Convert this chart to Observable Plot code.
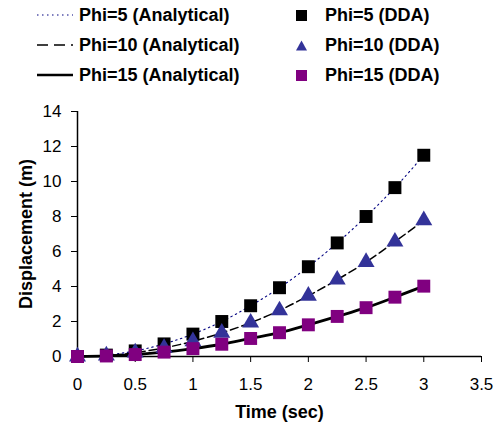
<!DOCTYPE html>
<html>
<head>
<meta charset="utf-8">
<script src="https://cdn.jsdelivr.net/npm/d3@7"></script>
<script src="https://cdn.jsdelivr.net/npm/@observablehq/plot@0.6"></script>
<style>
  body { margin: 0; background: #fff; font-family: Arial, "Liberation Sans", sans-serif; }
  #wrap { position: relative; width: 497px; height: 425px; }
  #legend { position: absolute; left: 0; top: 0; width: 497px; height: 95px; }
  .row { position: absolute; height: 22px; display: flex; align-items: center; font-weight: bold; font-size: 18px; line-height: 22px; color: #000; white-space: nowrap; }
  .row svg { display: block; }
  #chart { position: absolute; left: 0; top: 95px; }
</style>
</head>
<body>
<div id="wrap">
  <div id="legend"></div>
  <div id="chart"></div>
</div>
<script>
// Data
const time = [0, 0.25, 0.5, 0.75, 1, 1.25, 1.5, 1.75, 2, 2.25, 2.5, 2.75, 3];
const phi5 = [0, 0.08, 0.32, 0.72, 1.28, 2.0, 2.9, 3.93, 5.13, 6.49, 8.0, 9.65, 11.5];
const phi10 = [0, 0.05, 0.22, 0.49, 0.87, 1.35, 1.93, 2.63, 3.47, 4.39, 5.4, 6.56, 7.78];
const phi15 = [0, 0.03, 0.11, 0.25, 0.45, 0.7, 1.03, 1.36, 1.81, 2.29, 2.79, 3.39, 4.02];
const xTicks = [0, 0.5, 1, 1.5, 2, 2.5, 3, 3.5];
const yTicks = [0, 2, 4, 6, 8, 10, 12, 14];
const seriesNames = ["Phi=5", "Phi=10", "Phi=15"];

const mk = (vals) => time.map((t, i) => ({t, v: vals[i]}));
const d5 = mk(phi5), d10 = mk(phi10), d15 = mk(phi15);

const colors = {sq5: "#000000", tri10: "#333399", sq15: "#800080", dot5: "#000080"};

const chart = Plot.plot({
  width: 497,
  height: 330,
  marginLeft: 77,
  marginRight: 16,
  marginTop: 16,
  marginBottom: 69,
  style: {fontFamily: 'Arial, "Liberation Sans", sans-serif', fontSize: "17px", color: "#000", background: "#fff", overflow: "visible"},
  x: {domain: [0, 3.5]},
  y: {domain: [0, 14]},
  marks: [
    Plot.axisX({ticks: xTicks, tickSize: 6, tickPadding: 15, tickFormat: d => String(d), label: null, fontSize: 17, stroke: "#000"}),
    Plot.axisY({ticks: yTicks, tickSize: 6, tickPadding: 10, tickFormat: d => String(d), label: null, fontSize: 17, stroke: "#000"}),
    Plot.ruleY([0], {stroke: "#000", strokeWidth: 1.5}),
    Plot.ruleX([0], {stroke: "#000", strokeWidth: 1.5}),
    Plot.line(d5, {x: "t", y: "v", stroke: colors.dot5, strokeWidth: 1.1, strokeDasharray: "1.5,3.5", curve: "monotone-x"}),
    Plot.line(d10, {x: "t", y: "v", stroke: "#000", strokeWidth: 1.5, strokeDasharray: "8,4", curve: "monotone-x"}),
    Plot.line(d15, {x: "t", y: "v", stroke: "#000", strokeWidth: 2.8, curve: "monotone-x"}),
    Plot.dot(d5, {x: "t", y: "v", symbol: "square", r: 7.3, fill: colors.sq5, stroke: "none"}),
    Plot.dot(d10, {x: "t", y: "v", symbol: "triangle", r: 6.3, fill: colors.tri10, stroke: "none"}),
    Plot.dot(d15, {x: "t", y: "v", symbol: "square", r: 7.3, fill: colors.sq15, stroke: "none"}),
    Plot.text(["Time (sec)"], {frameAnchor: "bottom", lineAnchor: "middle", textAnchor: "middle", dy: 56, fontWeight: "bold", fontSize: 18}),
    Plot.text(["Displacement (m)"], {frameAnchor: "left", textAnchor: "middle", lineAnchor: "middle", dx: -51, rotate: -90, fontWeight: "bold", fontSize: 18})
  ]
});
document.getElementById("chart").appendChild(chart);

// Legend
const legend = document.getElementById("legend");
const rowsY = [15, 45, 75];
const lineSamples = [
  `<line x1="0" y1="5" x2="36" y2="5" stroke="${colors.dot5}" stroke-width="1.2" stroke-dasharray="1.5,3.5"/>`,
  `<line x1="0" y1="5" x2="36" y2="5" stroke="#000" stroke-width="1.5" stroke-dasharray="11,6"/>`,
  `<line x1="0" y1="5" x2="36" y2="5" stroke="#000" stroke-width="2.5"/>`
];
const markerSamples = [
  `<rect x="0" y="0" width="11" height="11" fill="${colors.sq5}"/>`,
  `<path d="M5.5,0.5 L11,10.5 L0,10.5 Z" fill="${colors.tri10}"/>`,
  `<rect x="0" y="0" width="11" height="11" fill="${colors.sq15}"/>`
];
seriesNames.forEach((name, i) => {
  const l = document.createElement("div");
  l.className = "row";
  l.style.left = "37px";
  l.style.top = (rowsY[i] - 11) + "px";
  l.innerHTML = `<svg width="36" height="10" style="margin-right:6px">${lineSamples[i]}</svg><span>${name} (Analytical)</span>`;
  legend.appendChild(l);
  const r = document.createElement("div");
  r.className = "row";
  r.style.left = "296px";
  r.style.top = (rowsY[i] - 11) + "px";
  r.innerHTML = `<svg width="11" height="11" style="margin-right:18px">${markerSamples[i]}</svg><span>${name} (DDA)</span>`;
  legend.appendChild(r);
});
</script>
</body>
</html>
